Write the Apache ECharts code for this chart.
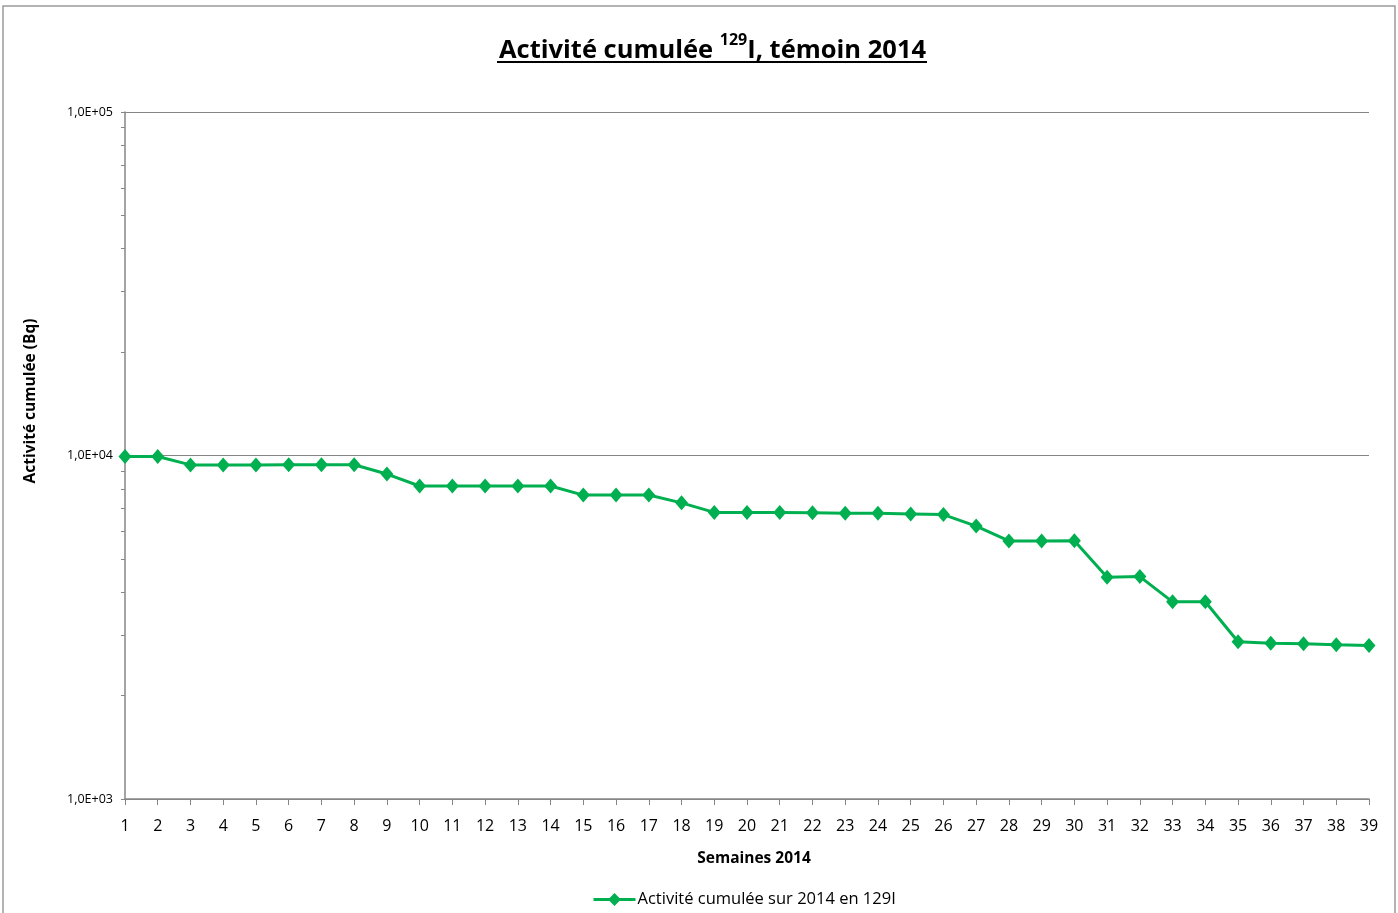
<!DOCTYPE html>
<html><head><meta charset="utf-8">
<script src="https://cdn.jsdelivr.net/npm/echarts@6/dist/echarts.min.js"></script>
<style>html,body{margin:0;padding:0;background:#fff}#c{width:1398px;height:913px}</style>
</head><body><div id="c"></div>
<script>
const weeks = ['1','2','3','4','5','6','7','8','9','10','11','12','13','14','15','16','17','18','19','20','21','22','23','24','25','26','27','28','29','30','31','32','33','34','35','36','37','38','39'];
const activity = [9930,9930,9390,9390,9390,9400,9400,9400,8830,8150,8150,8150,8150,8150,7670,7670,7670,7280,6830,6830,6830,6815,6790,6790,6760,6730,6230,5640,5640,5650,4420,4440,3750,3750,2870,2840,2830,2810,2800];
const yTickValues = [1000,2000,3000,4000,5000,6000,7000,8000,9000,10000,20000,30000,40000,50000,60000,70000,80000,90000,100000];
const seriesName = 'Activité cumulée sur 2014 en 129I';
const titleText = 'Activité cumulée ';
const xName = 'Semaines 2014';
const yName = 'Activité cumulée (Bq)';

const chart = echarts.init(document.getElementById('c'));
const font = 'Open Sans, Lato, sans-serif';
const green = '#00B050';
const axisGray = '#868686';

function sciLabel(v){
  const e = Math.round(Math.log10(v));
  const m = v / Math.pow(10, e);
  return m.toFixed(1).replace('.', ',') + 'E' + (e >= 0 ? '+' : '-') + String(Math.abs(e)).padStart(2, '0');
}

chart.setOption({
  animation: false,
  backgroundColor: '#fff',
  title: {
    text: '{a|' + titleText + '}{s|129}{a|I, témoin 2014}',
    left: 494, top: 27,
    textStyle: {
      rich: {
        a: {fontFamily: font, fontSize: 25.5, fontWeight: 'bold', color: '#000', verticalAlign: 'bottom', lineHeight: 32},
        s: {fontFamily: font, fontSize: 16, fontWeight: 'bold', color: '#000', verticalAlign: 'top', lineHeight: 32, padding: [0, 0, 12, 0]}
      }
    }
  },
  graphic: [
    {type: 'rect', shape: {x: 3, y: 6, width: 1392, height: 930}, style: {fill: 'none', stroke: '#9a9a9a', lineWidth: 1.5}, silent: true},
    {type: 'line', shape: {x1: 497, y1: 62, x2: 927, y2: 62}, style: {stroke: '#000', lineWidth: 2}, silent: true},
    {type: 'text', x: 31, y: 401, rotation: Math.PI / 2,
     style: {text: yName, fontFamily: font, fontSize: 15.5, fontWeight: 'bold', fill: '#000', align: 'center', verticalAlign: 'middle'}}
  ],
  grid: {left: 125, right: 29, top: 112, bottom: 114, containLabel: false},
  legend: {
    bottom: 0, left: 587,
    itemWidth: 42, itemHeight: 16, itemGap: 0,
    lineStyle: {width: 3},
    textStyle: {fontFamily: font, fontSize: 16.5, color: '#000', padding: [0, 0, 0, -3]},
    data: [seriesName]
  },
  xAxis: {
    type: 'category', data: weeks, boundaryGap: false,
    name: xName, nameLocation: 'middle', nameGap: 52,
    nameTextStyle: {fontFamily: font, fontSize: 15.5, fontWeight: 'bold', color: '#000', padding: [0, 0, 0, 14]},
    axisLine: {lineStyle: {color: axisGray, width: 1.5}},
    axisTick: {show: true, alignWithLabel: true, length: 6, lineStyle: {color: axisGray}, interval: 0},
    axisLabel: {fontFamily: font, fontSize: 16, color: '#000', margin: 19, interval: 0},
    splitLine: {show: false}
  },
  yAxis: [{
    type: 'log', logBase: 10, min: 1000, max: 100000,
    axisLine: {show: true, lineStyle: {color: axisGray, width: 1.5}},
    axisTick: {show: false},
    axisLabel: {fontFamily: font, fontSize: 12.5, color: '#000', margin: 12, formatter: sciLabel},
    splitLine: {show: true, lineStyle: {color: axisGray, width: 1}}
  }, {
    type: 'log', logBase: 10, min: 1000, max: 100000, position: 'left', offset: 0,
    axisLine: {show: false},
    axisTick: {show: true, inside: false, length: 4, lineStyle: {color: axisGray}, customValues: yTickValues},
    axisLabel: {show: false},
    splitLine: {show: false}
  }],
  series: [{
    name: seriesName, type: 'line', data: activity, yAxisIndex: 0,
    symbol: 'diamond', symbolSize: [13, 15],
    lineStyle: {color: green, width: 3},
    itemStyle: {color: green}
  }]
});
</script></body></html>
